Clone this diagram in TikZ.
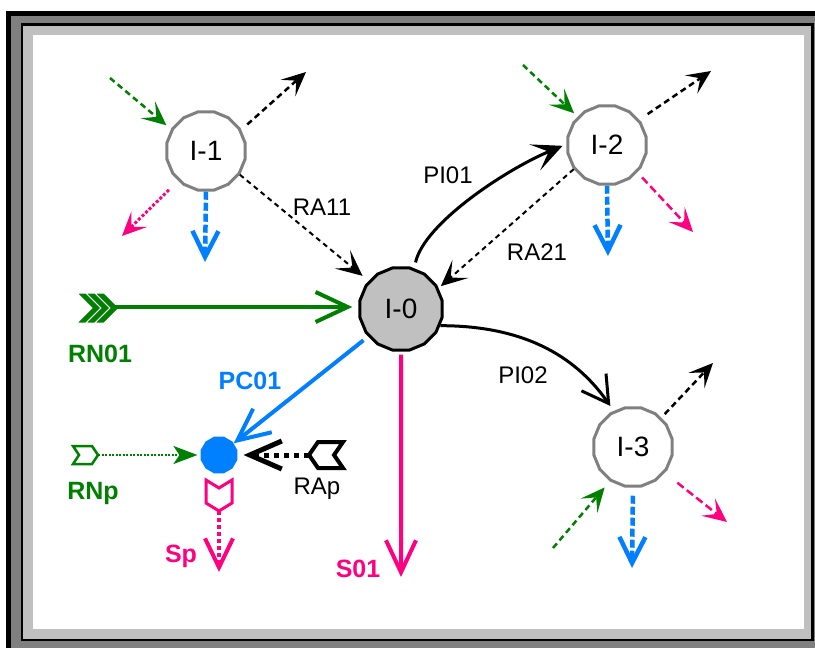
\documentclass[tikz,border=0pt]{standalone}
\usepackage{fontspec}
\setmainfont{Liberation Sans}
\usepackage{xcolor}
\usepackage{tikz}
\usetikzlibrary{arrows.meta, positioning, shapes.geometric, calc}

\definecolor{flowgreen}{RGB}{0,128,0}
\definecolor{flowblue}{RGB}{0,128,255}
\definecolor{flowpink}{RGB}{255,0,128}
\definecolor{framegray}{RGB}{128,128,128}
\definecolor{framelight}{RGB}{192,192,192}

\tikzset{
  barb/.tip={Stealth[length=24pt, width=22pt, inset=11pt]},
  vee/.tip={Straight Barb[length=26pt, width=26pt]},
  bigvee/.tip={Straight Barb[length=32pt, width=30pt]},
  gtip/.tip={Stealth[length=24pt, width=18pt, inset=6pt]},
  pihead/.tip={Stealth[length=30pt, width=28pt, inset=15pt]},
  rahead/.tip={Stealth[length=26pt, width=24pt, inset=13pt]},
  inode/.style={regular polygon, regular polygon sides=16, draw=framegray,
    line width=3pt, fill=white, minimum size=80pt, inner sep=0pt,
    font=\fontsize{28}{32}\selectfont},
  lbl/.style={font=\fontsize{24}{28}\selectfont, inner sep=0pt, anchor=base},
  boldlbl/.style={font=\fontsize{25}{29}\selectfont\bfseries, inner sep=0pt, anchor=base},
  grnin/.style={flowgreen, line width=2.5pt, dash pattern=on 6pt off 4pt, -barb},
  blkout/.style={black, line width=2.5pt, dash pattern=on 6pt off 4pt, -barb},
  pnkout/.style={flowpink, line width=2.5pt, dash pattern=on 8pt off 4pt, -barb},
  bluout/.style={flowblue, line width=4.5pt, dash pattern=on 8pt off 3pt, -vee},
  raflow/.style={black, line width=2pt, dash pattern=on 5pt off 4pt, -rahead},
  piflow/.style={black, line width=3pt, -pihead}
}

\begin{document}
\begin{tikzpicture}[x=1pt, y=-1pt]
  \useasboundingbox (0,0) rectangle (815,648);
  \clip (0,0) rectangle (815,648);
  % window frame
  \fill[black] (6,11) rectangle (830,660);
  \fill[framegray] (11,16) rectangle (830,660);
  \fill[black] (21,23) rectangle (814,641);
  \fill[framelight] (23,26) rectangle (811,639);
  \fill[white] (33,35) rectangle (804,629);

  % nodes
  \node[inode, fill=framelight, draw=black, minimum size=84pt] (i0) at (401,309) {I-0};
  \node[inode] (i1) at (206,151) {I-1};
  \node[inode] (i2) at (607,145) {I-2};
  \node[inode] (i3) at (633,447) {I-3};
  \node[regular polygon, regular polygon sides=12, fill=flowblue, minimum size=38pt,
    inner sep=0pt] (pc) at (219,455) {};

  % stubs round I-1
  \coordinate (i1g) at (110,78);
  \coordinate (i1k) at (306,72);
  \coordinate (i1p) at (122,236);
  \coordinate (i1b) at (205,262);
  \draw[grnin, shorten >=6pt] (i1g) -- (i1.148);
  \draw[blkout, shorten <=8pt] (i1.31) -- (i1k);
  \draw[flowpink, line width=3pt, dash pattern=on 3pt off 2pt, -barb, shorten <=13pt] (i1.227) -- (i1p);
  \draw[bluout] (i1.270) -- (i1b);

  % stubs round I-2
  \coordinate (i2g) at (523,65);
  \coordinate (i2k) at (711,71);
  \coordinate (i2p) at (693,232);
  \coordinate (i2b) at (608,256);
  \draw[grnin, shorten >=5pt] (i2g) -- (i2.136);
  \draw[blkout, shorten <=10pt] (i2.38) -- (i2k);
  \draw[pnkout, shorten <=7pt] (i2.318) -- (i2p);
  \draw[bluout] (i2.270) -- (i2b);

  % stubs round I-3
  \coordinate (i3g) at (553,548);
  \coordinate (i3k) at (713,363);
  \coordinate (i3p) at (727,522);
  \coordinate (i3b) at (632,568);
  \draw[grnin, shorten >=8pt] (i3g) -- (i3.236);
  \draw[blkout, shorten <=5pt] (i3.46) -- (i3k);
  \draw[pnkout, shorten <=16pt] (i3.321) -- (i3p);
  \draw[bluout, shorten <=8pt] (i3.270) -- (i3b);

  % links between the I nodes
  \draw[raflow, shorten >=8pt] (i1.325) -- (i0.139);
  \draw[raflow, shorten >=3pt] (i2.216) -- (i0.29);
  \draw[piflow, shorten <=6pt, shorten >=4pt] (i0.72) .. controls +(10,-45) and +(-60,25) .. (i2.179);
  \draw[black, line width=3pt, -{Straight Barb[length=26pt, width=30pt]}, shorten >=6pt]
    (i0.337) .. controls +(90,0) and +(-35,-50) .. (i3.118);
  \node[lbl] (ra11) at (322,215) {RA11};
  \node[lbl] (ra21) at (537,260) {RA21};
  \node[lbl] (pi01) at (448,183) {PI01};
  \node[lbl] (pi02) at (523,383) {PI02};

  % RN01
  \coordinate (rn01) at (115,307);
  \filldraw[fill=flowgreen, draw=white, line width=1pt] (77,293) -- (86,293) -- (101,308) -- (86,323) -- (77,323) -- (92,308) -- cycle;
  \filldraw[fill=flowgreen, draw=white, line width=1pt] (86,293) -- (95,293) -- (110,308) -- (95,323) -- (86,323) -- (101,308) -- cycle;
  \filldraw[fill=flowgreen, draw=white, line width=1pt] (95,293) -- (104,293) -- (119,308) -- (104,323) -- (95,323) -- (110,308) -- cycle;
  \draw[flowgreen, line width=4pt, -bigvee, shorten >=6pt] (rn01) -- (rn01 -| i0.west);
  \node[boldlbl, flowgreen] (rn01lbl) at (100,362) {RN01};

  % PC01 and S01
  \coordinate (s01) at (401,577);
  \draw[flowblue, line width=4pt, -bigvee, shorten <=6pt] (i0.220) -- (pc);
  \draw[flowpink, line width=4pt, -bigvee, shorten <=3pt] (i0.south) -- (s01);
  \node[boldlbl, flowblue] (pc01lbl) at (250,389) {PC01};
  \node[boldlbl, flowpink] (s01lbl) at (358,577) {S01};

  % RNp
  \coordinate (rnp) at (98,455);
  \draw[flowgreen, line width=2.5pt, fill=white] (73,446) -- (92,446) -- (98,455) -- (92,464) -- (73,464) -- (79,455) -- cycle;
  \draw[flowgreen, line width=2pt, dash pattern=on 2pt off 1.5pt, -gtip, shorten >=3pt] (rnp) -- (pc.west);
  \node[boldlbl, flowgreen] (rnplbl) at (93,499) {RNp};

  % RAp
  \coordinate (rap) at (309,455);
  \draw[black, line width=4pt, fill=white] (343,442) -- (318,442) -- (309,455) -- (318,468) -- (343,468) -- (334,455) -- cycle;
  \draw[black, line width=5pt, dash pattern=on 5pt off 5pt, -{Straight Barb[length=32pt, width=28pt]}, shorten >=6pt] (rap) -- (pc.east);
  \node[lbl] (raplbl) at (317,494) {RAp};

  % Sp
  \coordinate (sp) at (219,511);
  \coordinate (spend) at (219,572);
  \draw[flowpink, line width=3pt, fill=white] (206,480) -- (219,488) -- (232,480) -- (232,503) -- (219,511) -- (206,503) -- cycle;
  \draw[flowpink, line width=4pt, dash pattern=on 4pt off 3pt, -{Straight Barb[length=29pt, width=28pt]}] (sp) -- (spend);
  \node[boldlbl, flowpink] (splbl) at (181,562) {Sp};
\end{tikzpicture}
\end{document}
